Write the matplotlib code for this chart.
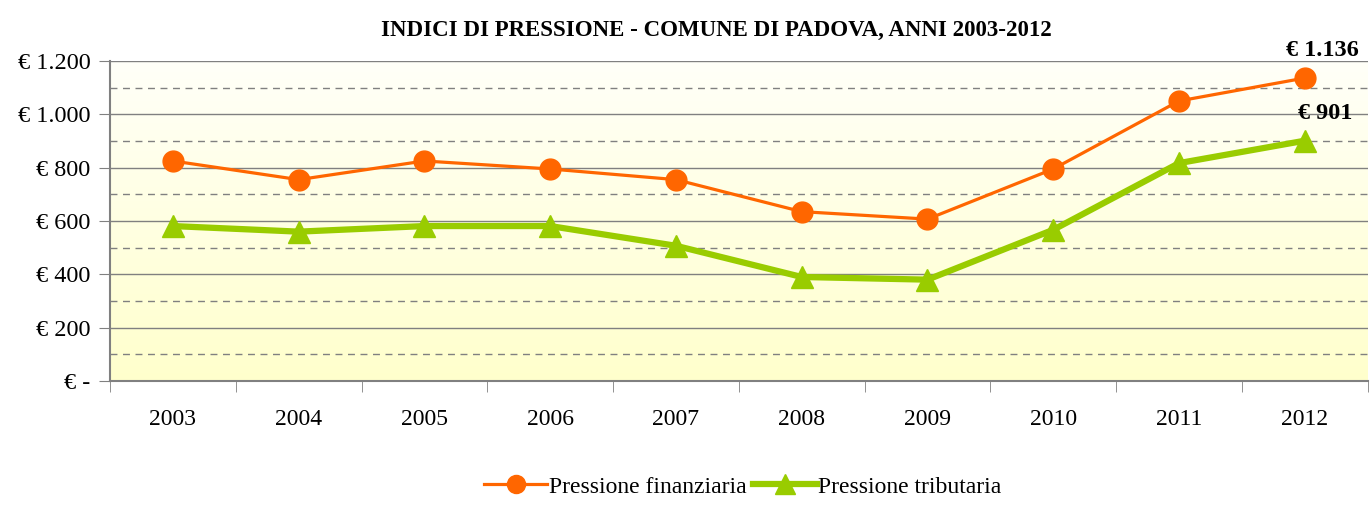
import numpy as np
import matplotlib
matplotlib.use('Agg')
import matplotlib.pyplot as plt
from matplotlib.lines import Line2D

plt.rcParams['font.family'] = ['Liberation Serif', 'DejaVu Serif']

years = ['2003', '2004', '2005', '2006', '2007', '2008', '2009', '2010', '2011', '2012']
pressione_finanziaria = [825, 755, 825, 795, 755, 635, 607, 795, 1050, 1136]
pressione_tributaria = [581, 560, 581, 581, 507, 390, 380, 567, 817, 901]
y_ticks = [0, 200, 400, 600, 800, 1000, 1200]
y_tick_labels = ['€ -', '€ 200', '€ 400', '€ 600', '€ 800', '€ 1.000', '€ 1.200']

ORANGE = '#FF6600'
GREEN = '#99CC00'

fig = plt.figure(figsize=(13.7, 5.08), dpi=100)
ax = fig.add_axes([0.0803, 0.25, 0.918, 0.63])

x = np.arange(len(years))
ax.set_xlim(-0.5, len(years) - 0.5)
ax.set_ylim(0, 1200)

# gradient background (white -> pale yellow)
grad = np.linspace(0, 1, 256).reshape(-1, 1)
top = np.array([1.0, 1.0, 0.975])
bot = np.array([1.0, 1.0, 0.80])
img = top + (bot - top) * grad[:, :, None]
ax.imshow(img, extent=[0, 1, 0, 1], transform=ax.transAxes, aspect='auto', zorder=0)

# grid: solid majors, dashed minors
for v in range(200, 1201, 200):
    ax.axhline(v, color='#808080', lw=1.0, zorder=1)
for v in range(100, 1200, 200):
    ax.axhline(v, color='#808080', lw=1.0, ls=(0, (5, 4)), zorder=1)

ax.plot(x, pressione_tributaria, color=GREEN, lw=4.5, marker='^', ms=16, zorder=3)
ax.plot(x, pressione_finanziaria, color=ORANGE, lw=2.3, marker='o', ms=15, zorder=4)

# value labels on the last year
ax.annotate('€ 1.136', (x[-1], pressione_finanziaria[-1]), xytext=(13, 12),
            textcoords='offset points', ha='center', va='bottom',
            fontsize=17.5, weight='bold')
ax.annotate('€ 901', (x[-1], pressione_tributaria[-1]), xytext=(15, 12),
            textcoords='offset points', ha='center', va='bottom',
            fontsize=17.5, weight='bold')

ax.set_yticks(y_ticks)
ax.set_yticklabels(y_tick_labels, fontsize=17.5)
ax.set_xticks(x)
ax.set_xticklabels(years, fontsize=17)
ax.tick_params(axis='x', length=0, pad=20)
ax.set_xticks(np.arange(-0.5, len(years)), minor=True)
ax.tick_params(axis='x', which='minor', length=8, color='#808080')
ax.tick_params(axis='y', length=8, color='#808080', pad=6)

for s in ['top', 'right']:
    ax.spines[s].set_visible(False)
for s in ['left', 'bottom']:
    ax.spines[s].set_color('#808080')
    ax.spines[s].set_linewidth(1.5)

fig.text(0.523, 0.94, 'INDICI DI PRESSIONE - COMUNE DI PADOVA, ANNI 2003-2012',
         ha='center', va='center', fontsize=16.5, weight='bold')

handles = [
    Line2D([], [], color=ORANGE, lw=2.3, marker='o', ms=13),
    Line2D([], [], color=GREEN, lw=4.5, marker='^', ms=14),
]
fig.legend(handles, ['Pressione finanziaria', 'Pressione tributaria'],
           loc='lower center', bbox_to_anchor=(0.542, -0.012), ncol=2, frameon=False,
           fontsize=17, handlelength=2.7, handletextpad=0.05, columnspacing=0.3,
           borderpad=0.2)

fig.savefig('out.png', dpi=100, facecolor='white')
